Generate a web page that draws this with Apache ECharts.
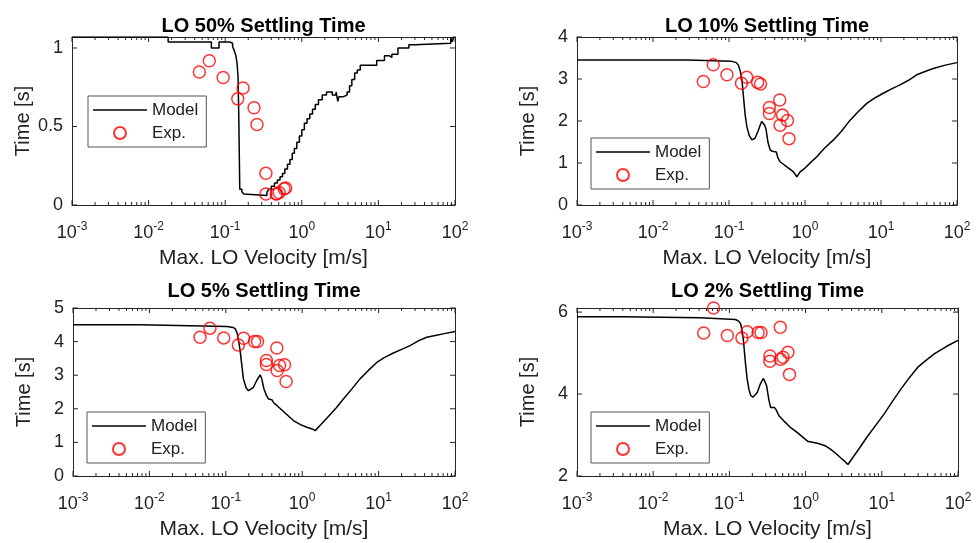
<!DOCTYPE html>
<html>
<head>
<meta charset="utf-8">
<script src="https://cdn.jsdelivr.net/npm/echarts@6.0.0/dist/echarts.min.js"></script>
<style>
html, body { margin: 0; padding: 0; background: #fff; }
#main { width: 976px; height: 543px; }
</style>
</head>
<body>
<div id="main"></div>
<script>
// experiments: max LO velocity [m/s]
var expV = [0.046, 0.062, 0.094, 0.146, 0.171, 0.238, 0.26, 0.34, 0.34, 0.465, 0.506, 0.47, 0.587, 0.615];
// measured settling times [s]
var exp50 = [0.847, 0.919, 0.812, 0.676, 0.745, 0.619, 0.513, 0.202, 0.07, 0.07, 0.08, 0.072, 0.104, 0.108];
var exp10 = [2.94, 3.34, 3.10, 2.90, 3.04, 2.92, 2.88, 2.32, 2.18, 2.50, 2.14, 1.90, 2.01, 1.58];
var exp5 = [4.13, 4.40, 4.11, 3.90, 4.10, 4.00, 4.00, 3.44, 3.32, 3.81, 3.29, 3.14, 3.31, 2.81];
var exp2 = [5.49, 6.10, 5.43, 5.37, 5.52, 5.50, 5.50, 4.93, 4.80, 5.63, 4.90, 4.85, 5.02, 4.48];

// model curves
var m50V = [0.001, 0.018, 0.066, 0.083, 0.115, 0.125, 0.132, 0.138, 0.143, 0.147, 0.150, 0.153, 0.155, 0.165, 0.175, 0.185,
  0.35, 0.37, 0.40, 0.44, 0.48, 0.52, 0.56, 0.60, 0.65, 0.70, 0.75, 0.80, 0.86, 0.93, 1.0, 1.08, 1.17, 1.27, 1.38, 1.5,
  1.65, 1.85, 2.1, 2.5, 2.8, 2.95, 3.05, 3.5, 3.9, 4.2, 4.5, 4.9, 5.3, 5.8, 9.5, 12, 14, 15, 18, 25, 30, 88, 92, 96, 100];
var m50T = [1.07, 1.038, 1.0, 1.038, 1.03, 1.01, 0.98, 0.95, 0.90, 0.82, 0.60, 0.30, 0.10, 0.085, 0.07, 0.06,
  0.08, 0.10, 0.12, 0.14, 0.16, 0.18, 0.20, 0.23, 0.26, 0.29, 0.33, 0.36, 0.40, 0.44, 0.48, 0.52, 0.55, 0.58, 0.61, 0.64,
  0.67, 0.70, 0.72, 0.70, 0.72, 0.66, 0.69, 0.70, 0.72, 0.76, 0.80, 0.84, 0.86, 0.89, 0.92, 0.95, 0.94, 0.96, 1.0, 1.02, 1.03, 1.07, 1.04, 1.07, 1.07];

var m10V = [0.001, 0.028, 0.029, 0.109, 0.125, 0.133, 0.140, 0.148, 0.155, 0.163, 0.172, 0.185, 0.2, 0.21, 0.22, 0.24,
  0.257, 0.27, 0.284, 0.295, 0.308, 0.325, 0.348, 0.37, 0.393, 0.42, 0.44, 0.47, 0.52, 0.577, 0.64, 0.705, 0.75, 0.78,
  0.80, 0.863, 1.0, 1.2, 1.43, 1.8, 2.37, 3.0, 3.92, 5, 6.5, 8.5, 10.7, 14, 17.8, 23, 29.5, 38, 48.8, 70, 100];
var m10T = [3.45, 3.45, 3.42, 3.42, 3.39, 3.33, 3.20, 2.98, 2.58, 2.15, 1.86, 1.65, 1.55, 1.54, 1.59, 1.75,
  1.90, 1.99, 2.0, 1.9, 1.79, 1.5, 1.31, 1.28, 1.28, 1.26, 1.12, 1.03, 0.97, 0.91, 0.85, 0.79, 0.72, 0.67,
  0.70, 0.79, 0.88, 1.02, 1.15, 1.35, 1.55, 1.75, 2.02, 2.22, 2.42, 2.56, 2.66, 2.77, 2.86, 2.97, 3.10, 3.18, 3.25, 3.33, 3.39];

var m5V = [0.001, 0.0076, 0.008, 0.103, 0.125, 0.133, 0.141, 0.147, 0.154, 0.162, 0.17, 0.185, 0.198, 0.21, 0.23, 0.255,
  0.282, 0.295, 0.316, 0.34, 0.363, 0.40, 0.43, 0.466, 0.55, 0.65, 0.767, 0.95, 1.15, 1.35, 1.48, 1.55, 1.71, 2.2, 2.8,
  3.46, 4.5, 5.71, 7.4, 9.46, 12, 15.6, 20, 25.8, 33, 42.7, 55, 70, 100];
var m5T = [4.50, 4.50, 4.47, 4.45, 4.42, 4.38, 4.25, 4.03, 3.73, 3.3, 2.89, 2.62, 2.54, 2.55, 2.64, 2.85,
  3.01, 2.9, 2.59, 2.4, 2.29, 2.27, 2.16, 2.10, 1.95, 1.80, 1.65, 1.53, 1.45, 1.40, 1.35, 1.40, 1.50, 1.77, 2.03,
  2.29, 2.60, 2.89, 3.15, 3.38, 3.53, 3.66, 3.77, 3.88, 4.02, 4.13, 4.18, 4.23, 4.30];

var m2V = [0.001, 0.0039, 0.004, 0.042, 0.043, 0.12, 0.132, 0.14, 0.147, 0.152, 0.162, 0.17, 0.18, 0.19, 0.203, 0.215,
  0.232, 0.255, 0.279, 0.29, 0.308, 0.33, 0.348, 0.39, 0.41, 0.447, 0.52, 0.62, 0.78, 1.06, 1.43, 1.8, 2.14, 2.5, 2.9,
  3.3, 3.6, 3.75, 3.92, 5, 6.5, 8.5, 10.7, 14, 17.8, 23, 29.5, 38, 48.8, 70, 100];
var m2T = [5.885, 5.885, 5.86, 5.86, 5.83, 5.82, 5.78, 5.72, 5.55, 5.35, 4.78, 4.40, 4.12, 3.97, 3.92, 3.96,
  4.04, 4.25, 4.38, 4.32, 4.20, 3.85, 3.67, 3.67, 3.62, 3.47, 3.34, 3.20, 3.06, 2.85, 2.80, 2.74, 2.65, 2.55, 2.44,
  2.35, 2.28, 2.33, 2.36, 2.66, 2.97, 3.26, 3.51, 3.84, 4.12, 4.40, 4.65, 4.82, 4.98, 5.16, 5.31];

var titles = ['LO 50% Settling Time', 'LO 10% Settling Time', 'LO 5% Settling Time', 'LO 2% Settling Time'];
var xTicks = [0.001, 0.01, 0.1, 1, 10, 100];
var yTicks50 = [0, 0.5, 1];
var yTicks10 = [0, 1, 2, 3, 4];
var yTicks5 = [0, 1, 2, 3, 4, 5];
var yTicks2 = [2, 4, 6];

// minor tick values 2..9 x 10^d
var xMinor = [];
for (var d = -3; d < 2; d++) {
  for (var k = 2; k < 10; k++) xMinor.push(+(k * Math.pow(10, d)).toPrecision(3));
}

var FONT = '"Liberation Sans", Arial, sans-serif';
var AX = '#262626';
var XMIN = 0.001, XMAX = 100;

var panels = [
  { exp: exp50, mv: m50V, mt: m50T, ymin: 0, ymax: 1.07, step: 0.5, yTicks: yTicks50, stairs: 'end', grid: [72, 37, 383, 168], legend: [88, 96] },
  { exp: exp10, mv: m10V, mt: m10T, ymin: 0, ymax: 4, step: 1, yTicks: yTicks10, stairs: false, grid: [577, 37, 380, 168], legend: [591, 138] },
  { exp: exp5, mv: m5V, mt: m5T, ymin: 0, ymax: 5, step: 1, yTicks: yTicks5, stairs: false, grid: [73, 308, 382, 168], legend: [87, 412] },
  { exp: exp2, mv: m2V, mt: m2T, ymin: 2, ymax: 6.1, step: 2, yTicks: yTicks2, stairs: false, grid: [577, 308, 381, 168], legend: [591, 412] }
];

function zip(a, b) {
  return a.map(function (v, i) { return [v, b[i]]; });
}

function logAxis(gi, pos, labels) {
  return {
    type: 'log', logBase: 10, gridIndex: gi, position: pos, min: XMIN, max: XMAX, splitNumber: 5,
    axisLine: { show: true, onZero: false, lineStyle: { color: AX, width: 1 } },
    axisTick: { show: false },
    axisLabel: labels ? {
      show: true, margin: 16, color: '#222', showMinLabel: true, showMaxLabel: true,
      formatter: function (v) { return '{b|10}{s|' + Math.round(Math.log10(v)) + '}'; },
      rich: {
        b: { fontSize: 18, fontFamily: FONT, color: '#222' },
        s: { fontSize: 12, fontFamily: FONT, color: '#222', padding: [0, 0, 12, 0] }
      }
    } : { show: false },
    splitLine: { show: false },
    name: labels ? 'Max. LO Velocity [m/s]' : '',
    nameLocation: 'middle', nameGap: 43,
    nameTextStyle: { fontSize: 21, fontFamily: FONT, color: '#222' }
  };
}

function valAxis(gi, pos, p, labels) {
  return {
    type: 'value', gridIndex: gi, position: pos, min: p.ymin, max: p.ymax, interval: p.step,
    axisLine: { show: true, onZero: false, lineStyle: { color: AX, width: 1 } },
    axisTick: { show: false },
    axisLabel: labels ? {
      show: true, margin: 9, fontSize: 18, fontFamily: FONT, color: '#222',
      formatter: function (v) {
        for (var j = 0; j < p.yTicks.length; j++) if (Math.abs(p.yTicks[j] - v) < 1e-9) return String(p.yTicks[j]);
        return '';
      }
    } : { show: false },
    splitLine: { show: false },
    name: labels ? 'Time [s]' : '',
    nameLocation: 'middle', nameGap: 39,
    nameTextStyle: { fontSize: 20, fontFamily: FONT, color: '#222' }
  };
}

// one inward tick per value, placed through the panel's axes
// side: 'bottom' | 'top' | 'left' | 'right'
function tickSeries(i, p, values, side, len) {
  var isX = side === 'bottom' || side === 'top';
  return {
    type: 'custom', xAxisIndex: 2 * i, yAxisIndex: 2 * i, silent: true, clip: false, z: 20, zlevel: 1,
    data: values.map(function (v) { return [v]; }),
    encode: isX ? { x: 0 } : { y: 0 },
    renderItem: function (params, api) {
      var v = api.value(0), c, dx = 0, dy = 0;
      if (side === 'bottom') { c = api.coord([v, p.ymin]); dy = -len; }
      else if (side === 'top') { c = api.coord([v, p.ymax]); dy = len; }
      else if (side === 'left') { c = api.coord([XMIN, v]); dx = len; }
      else { c = api.coord([XMAX, v]); dx = -len; }
      return {
        type: 'line',
        shape: { x1: c[0], y1: c[1], x2: c[0] + dx, y2: c[1] + dy },
        style: { stroke: AX, lineWidth: 1 }
      };
    }
  };
}

var option = { animation: false, backgroundColor: '#fff', title: [], grid: [], xAxis: [], yAxis: [], legend: [], series: [] };

panels.forEach(function (p, i) {
  var g = p.grid;
  option.grid.push({ left: g[0], top: g[1], width: g[2], height: g[3], containLabel: false });
  option.title.push({
    text: titles[i], left: g[0] + g[2] / 2, top: i < 2 ? 16 : 281, textAlign: 'center', padding: 0,
    textStyle: { fontSize: 20, fontWeight: 'bold', fontFamily: FONT, color: '#000' }
  });
  option.xAxis.push(logAxis(i, 'bottom', true));
  option.xAxis.push(logAxis(i, 'top', false));
  option.yAxis.push(valAxis(i, 'left', p, true));
  option.yAxis.push(valAxis(i, 'right', p, false));
  option.legend.push({
    orient: 'vertical', left: p.legend[0], top: p.legend[1],
    data: [{ name: 'Model', icon: 'path://M0 0H54V1.5H0Z' }, { name: 'Exp.' }],
    itemWidth: 54, itemHeight: 12, itemGap: 3,
    padding: [4, 8, 4, 5], borderColor: '#555', borderWidth: 1, backgroundColor: '#fff',
    selectedMode: false, z: 10,
    textStyle: { fontSize: 17, fontFamily: FONT, color: '#222', lineHeight: 20 }
  });
  option.series.push(tickSeries(i, p, xMinor, 'bottom', 3));
  option.series.push(tickSeries(i, p, xMinor, 'top', 3));
  option.series.push(tickSeries(i, p, xTicks, 'bottom', 5));
  option.series.push(tickSeries(i, p, xTicks, 'top', 5));
  option.series.push(tickSeries(i, p, p.yTicks, 'left', 5));
  option.series.push(tickSeries(i, p, p.yTicks, 'right', 5));
  option.series.push({
    name: 'Model', type: 'line', xAxisIndex: 2 * i, yAxisIndex: 2 * i,
    data: zip(p.mv, p.mt), step: p.stairs, showSymbol: false, symbol: 'none',
    lineStyle: { color: '#000', width: 1.5 }, itemStyle: { color: '#000' }, z: 2
  });
  option.series.push({
    name: 'Exp.', type: 'scatter', xAxisIndex: 2 * i, yAxisIndex: 2 * i,
    data: zip(expV, p.exp), symbol: 'circle', symbolSize: 12,
    itemStyle: { color: 'rgba(255,255,255,0)', borderColor: '#ff0000', borderWidth: 1.5 }, z: 3
  });
});

var chart = echarts.init(document.getElementById('main'));
chart.setOption(option);
</script>
</body>
</html>
